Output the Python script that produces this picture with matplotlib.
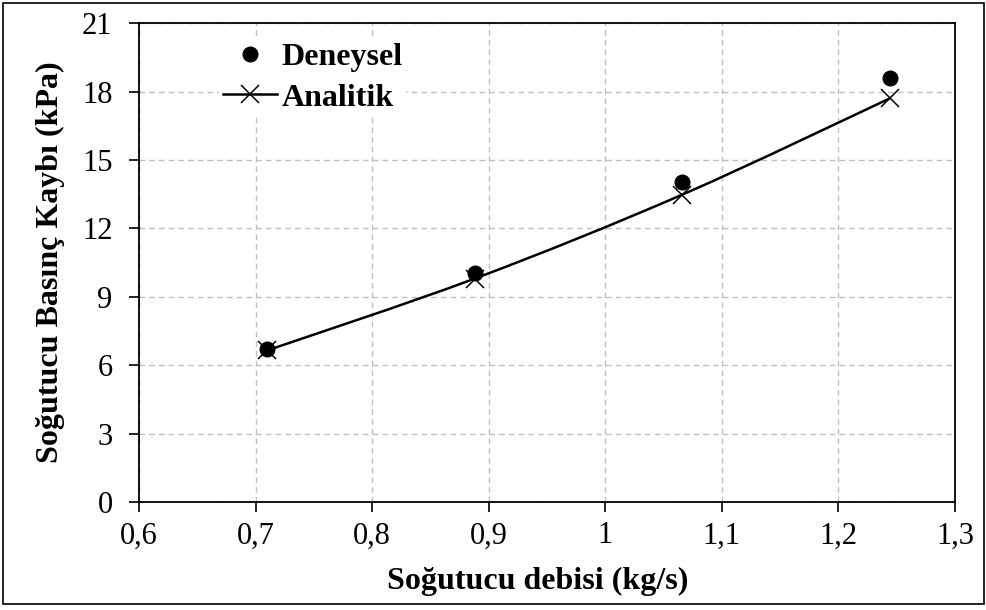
import numpy as np
import matplotlib
matplotlib.use("Agg")
import matplotlib.pyplot as plt
from matplotlib.path import Path
from matplotlib.patches import PathPatch, Rectangle
from matplotlib.lines import Line2D

plt.rcParams['font.family'] = ['Liberation Serif', 'DejaVu Serif']

# data
debi = [0.71, 0.888, 1.066, 1.244]
deneysel = [6.7, 10.05, 14.02, 18.58]
analitik = [6.65, 9.8, 13.48, 17.7]


def smooth_path(xs, ys):
    """Excel-like smoothed line: Catmull-Rom to cubic bezier."""
    pts = np.column_stack([xs, ys])
    verts = [pts[0]]
    codes = [Path.MOVETO]
    n = len(pts)
    for i in range(n - 1):
        p0 = pts[i - 1] if i > 0 else pts[i]
        p1 = pts[i]
        p2 = pts[i + 1]
        p3 = pts[i + 2] if i + 2 < n else pts[i + 1]
        c1 = p1 + (p2 - p0) / 6
        c2 = p2 - (p3 - p1) / 6
        verts += [c1, c2, p2]
        codes += [Path.CURVE4] * 3
    return Path(verts, codes)


fs = 23
tfs = 22
fig = plt.figure(figsize=(9.87, 6.1), dpi=100)
ax = fig.add_axes([0.1408, 0.177, 0.8268, 0.785])

ax.add_patch(PathPatch(smooth_path(debi, analitik), fill=False, ec='black', lw=1.8, zorder=3))
ax.plot(debi, analitik, ls='none', marker='x', ms=13, mew=1.1, color='black', zorder=4)
ax.plot(debi, deneysel, ls='none', marker='o', ms=10.5, color='black', zorder=5)

ax.set_xlim(0.6, 1.3)
ax.set_ylim(0, 21)
xt = np.arange(0.6, 1.31, 0.1)
ax.set_xticks(xt)
ax.set_xticklabels([('%g' % round(v, 1)).replace('.', ',') for v in xt])
ax.set_yticks(range(0, 22, 3))
ax.grid(True, ls=(0, (4, 3)), color='#BFBFBF', lw=1)
ax.set_axisbelow(True)
ax.tick_params(direction='out', length=7, width=1.2, labelsize=tfs)
ax.tick_params(axis='x', pad=7)
ax.tick_params(axis='y', pad=12)
for s in ax.spines.values():
    s.set_linewidth(1.3)

ax.set_xlabel('Soğutucu debisi (kg/s)', fontsize=fs, fontweight='bold', labelpad=12, x=0.489)
ax.set_ylabel('Soğutucu Basınç Kaybı (kPa)', fontsize=fs, fontweight='bold', labelpad=12)

handles = [Line2D([], [], ls='none', marker='o', ms=10.5, color='black'),
           Line2D([], [], ls='-', lw=1.8, marker='x', ms=13, mew=1.1, color='black')]
leg = ax.legend(handles, ['Deneysel', 'Analitik'], loc='upper left',
                bbox_to_anchor=(0.079, 1.0), frameon=True, framealpha=1,
                edgecolor='none', fancybox=False, handlelength=1.7,
                handletextpad=0.15, labelspacing=0.36, borderpad=0.1,
                prop={'size': fs, 'weight': 'bold'})

fig.patches.append(Rectangle((0.003, 0.0098), 0.994, 0.985, transform=fig.transFigure,
                             fill=False, ec='black', lw=1.2))

fig.savefig('out.png', dpi=100)
